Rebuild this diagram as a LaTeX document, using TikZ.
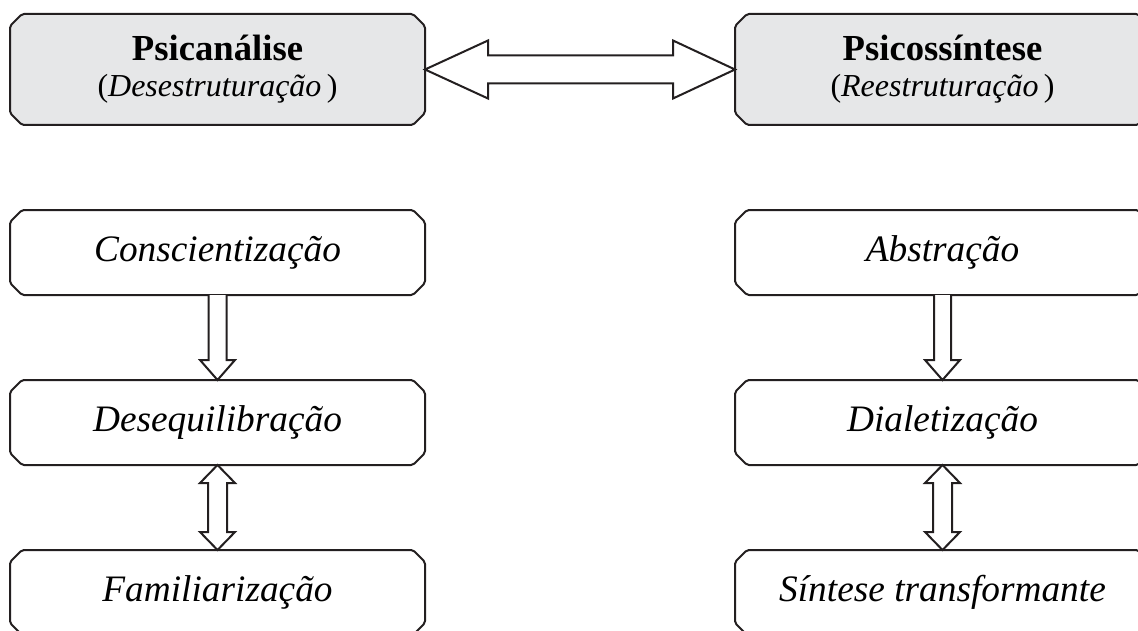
\documentclass[tikz,border=0pt]{standalone}
\usepackage{fontspec}
\setmainfont{Liberation Serif}
\usetikzlibrary{calc,backgrounds}
\definecolor{ink}{HTML}{231F20}
\definecolor{boxgray}{HTML}{E6E7E8}
\tikzset{
  boxline/.style={draw=ink, line width=1.5pt, line join=round, rounded corners=1.5pt},
  headbox/.style={minimum width=311.25pt, minimum height=83.25pt, inner sep=0pt, outer sep=0pt,
     align=center, text=black, font=\fontsize{24}{27}\selectfont},
  stepbox/.style={minimum width=311.25pt, minimum height=63.75pt, inner sep=0pt, outer sep=0pt,
     font=\fontsize{28}{32}\selectfont\itshape, text=black},
  bigarrow/.style={draw=ink, line width=1.5pt, line join=miter, fill=white},
}
\newcommand\chamferbox[2]{%
  \draw[boxline,#1] ($(#2.north west)+(12,0)$) -- ($(#2.north east)+(-12,0)$) -- ($(#2.north east)+(0,12)$)
   -- ($(#2.south east)+(0,-12)$) -- ($(#2.south east)+(-12,0)$) -- ($(#2.south west)+(12,0)$)
   -- ($(#2.south west)+(0,-12)$) -- ($(#2.north west)+(0,12)$) -- cycle;}
\begin{document}
\begin{tikzpicture}[x=0.75pt,y=-0.75pt]
\useasboundingbox (0,0) rectangle (1138,631);
% top boxes
\node[headbox] (psi) at (217.5,69.5) {{\fontsize{27.5}{27}\selectfont\bfseries Psican\'alise}\\
  (\textit{Desestrutura\c{c}\~ao}\,)};
\node[headbox] (pss) at (942.5,69.5) {{\fontsize{27.5}{27}\selectfont\bfseries Psicoss\'intese}\\
  (\textit{Reestrutura\c{c}\~ao}\,)};
% left column
\node[stepbox] (c1) at (217.5,252.5) {Conscientiza\c{c}\~ao};
\node[stepbox] (d1) at (217.5,422.5) {Desequilibra\c{c}\~ao};
\node[stepbox] (f1) at (217.5,592.5) {Familiariza\c{c}\~ao};
% right column
\node[stepbox] (a2) at (942.5,252.5) {Abstra\c{c}\~ao};
\node[stepbox] (d2) at (942.5,422.5) {Dialetiza\c{c}\~ao};
\node[stepbox] (s2) at (942.5,592.5) {S\'intese transformante};
\begin{scope}[on background layer]
  \chamferbox{fill=boxgray}{psi}
  \chamferbox{fill=boxgray}{pss}
  \chamferbox{fill=white}{c1}
  \chamferbox{fill=white}{d1}
  \chamferbox{fill=white}{f1}
  \chamferbox{fill=white}{a2}
  \chamferbox{fill=white}{d2}
  \chamferbox{fill=white}{s2}
\end{scope}
% horizontal double arrow
\draw[bigarrow] (psi.east) -- ++(63,-29) -- ++(0,15) -- ($(pss.west)+(-62,-14)$) -- ++(0,-15)
  -- (pss.west) -- ++(-62,29) -- ++(0,-15) -- ($(psi.east)+(63,14)$) -- ++(0,15) -- cycle;
% single down arrows
\draw[bigarrow] ($(c1.south)+(-9,0)$) -- ($(d1.north)+(-9,-20)$) -- ++(-8.5,0) -- (d1.north)
  -- ++(17.5,-20) -- ++(-8.5,0) -- ($(c1.south)+(9,0)$);
\draw[bigarrow] ($(a2.south)+(-8.5,0)$) -- ($(d2.north)+(-8.5,-20)$) -- ++(-9,0) -- (d2.north)
  -- ++(17.5,-20) -- ++(-9,0) -- ($(a2.south)+(8.5,0)$);
% double vertical arrows
\draw[bigarrow] (d1.south) -- ++(17.5,18) -- ++(-8,0) -- ($(f1.north)+(9.5,-18)$) -- ++(8,0)
  -- (f1.north) -- ++(-17.5,-18) -- ++(8,0) -- ($(d1.south)+(-9.5,18)$) -- ++(-8,0) -- cycle;
\draw[bigarrow] (d2.south) -- ++(17.5,18) -- ++(-8,0) -- ($(s2.north)+(9.5,-18)$) -- ++(8,0)
  -- (s2.north) -- ++(-17.5,-18) -- ++(8,0) -- ($(d2.south)+(-9.5,18)$) -- ++(-8,0) -- cycle;
\end{tikzpicture}
\end{document}
